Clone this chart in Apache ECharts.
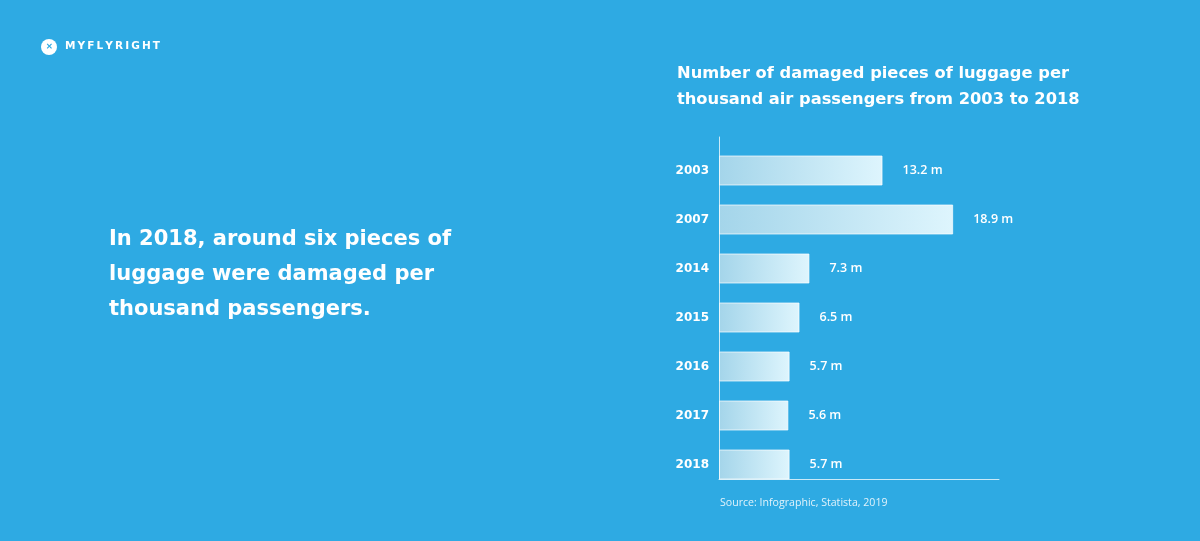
<!DOCTYPE html>
<html>
<head>
<meta charset="utf-8">
<script src="https://cdn.jsdelivr.net/npm/echarts@6/dist/echarts.min.js"></script>
<style>
    html, body { margin: 0; padding: 0; background: #2eaae3; }
    #chart { width: 1200px; height: 541px; }
</style>
</head>
<body>
<div id="chart"></div>
<script>
    let years = ['2003', '2007', '2014', '2015', '2016', '2017', '2018'];
    let values = [13.2, 18.9, 7.3, 6.5, 5.7, 5.6, 5.7];
    let unit = ' m';

    let font = '"Open Sans", "Noto Sans", sans-serif';
    let wide = '"DejaVu Sans", "Open Sans", sans-serif';
    let myChart = echarts.init(document.getElementById('chart'));

    let option = {
        backgroundColor: '#2eaae3',
        textStyle: { fontFamily: font },
        title: [
            {
                text: 'Number of damaged pieces of luggage per\nthousand air passengers from 2003 to 2018',
                left: 677,
                top: 61,
                padding: 0,
                textStyle: { color: '#fff', fontSize: 16.3, fontWeight: 'bold', lineHeight: 26, fontFamily: wide }
            },
            {
                text: 'In 2018, around six pieces of\nluggage were damaged per\nthousand passengers.',
                left: 109,
                top: 222,
                padding: 0,
                textStyle: { color: '#fff', fontSize: 21, fontWeight: 'bold', lineHeight: 35, fontFamily: wide }
            },
            {
                text: 'Source: Infographic, Statista, 2019',
                left: 720,
                top: 497,
                padding: 0,
                textStyle: { color: 'rgba(255,255,255,0.85)', fontSize: 10.6, fontWeight: 400, fontFamily: font }
            },
            {
                text: 'M\u2009Y\u2009F\u2009L\u2009Y\u2009R\u2009I\u2009G\u2009H\u2009T',
                left: 65,
                top: 41,
                padding: 0,
                textStyle: { color: '#fff', fontSize: 10.5, fontWeight: 'bold', fontFamily: wide }
            }
        ],
        graphic: [
            {
                type: 'circle',
                shape: { cx: 49, cy: 47, r: 8 },
                style: { fill: '#fff' }
            },
            {
                type: 'text',
                x: 49, y: 47,
                style: { text: '✕', fill: '#2eaae3', fontSize: 8, fontWeight: 700, align: 'center', verticalAlign: 'middle' }
            }
        ],
        grid: [
            // bars
            { left: 719, right: 201, top: 146, bottom: 52 },
            // axis lines only
            { left: 719, right: 201, top: 137, bottom: 62 }
        ],
        xAxis: [
            {
                type: 'value', gridIndex: 0, min: 0, max: 22.6,
                axisLine: { show: false }, axisLabel: { show: false },
                axisTick: { show: false }, splitLine: { show: false }
            },
            {
                type: 'value', gridIndex: 1, min: 0, max: 1,
                axisLine: { show: true, lineStyle: { color: 'rgba(255,255,255,0.75)', width: 1 } },
                axisLabel: { show: false }, axisTick: { show: false }, splitLine: { show: false }
            }
        ],
        yAxis: [
            {
                type: 'category', gridIndex: 0, data: years, inverse: true,
                axisLine: { show: false }, axisTick: { show: false },
                axisLabel: { color: '#fff', fontSize: 12, fontWeight: 'bold', margin: 10, fontFamily: wide }
            },
            {
                type: 'value', gridIndex: 1, min: 0, max: 1,
                axisLine: { show: true, lineStyle: { color: 'rgba(255,255,255,0.75)', width: 1 } },
                axisLabel: { show: false }, axisTick: { show: false }, splitLine: { show: false }
            }
        ],
        series: [
            {
                type: 'bar',
                xAxisIndex: 0,
                yAxisIndex: 0,
                data: values,
                barWidth: 30,
                itemStyle: {
                    color: new echarts.graphic.LinearGradient(0, 0, 1, 0, [
                        { offset: 0, color: '#a4d5ea' },
                        { offset: 1, color: '#def5fd' }
                    ]),
                    borderColor: 'rgba(255,255,255,0.7)',
                    borderWidth: 1
                },
                label: {
                    show: true,
                    position: 'right',
                    distance: 20,
                    color: '#fff',
                    fontSize: 12.5,
                    fontWeight: 600,
                    fontFamily: font,
                    formatter: function (p) {
                        return p.value + unit;
                    }
                }
            }
        ]
    };

    myChart.setOption(option);
</script>
</body>
</html>
